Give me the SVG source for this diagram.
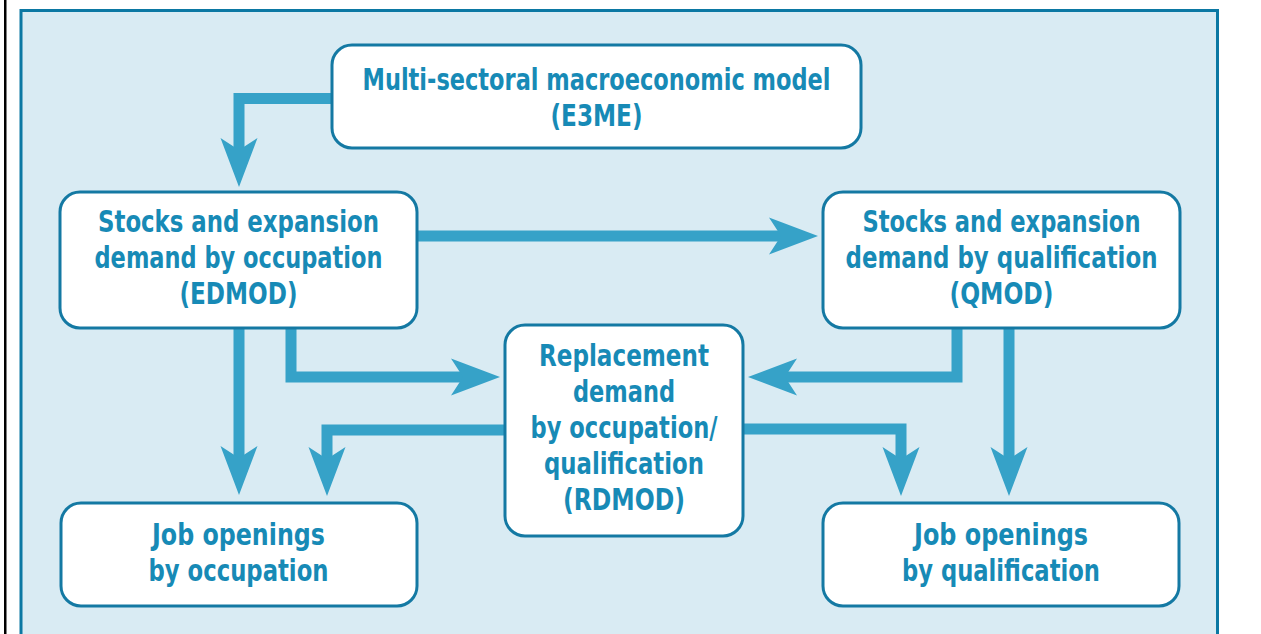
<svg xmlns="http://www.w3.org/2000/svg" width="1261" height="634" viewBox="0 0 1261 634">
<style>
.panel{fill:#d9ebf3;stroke:#0b78a3;stroke-width:3}
.box{fill:#ffffff;stroke:#1479a3;stroke-width:3}
.lbl{font-family:"Liberation Sans Narrow","DejaVu Sans Condensed","Liberation Sans",sans-serif;font-stretch:condensed;font-weight:bold;font-size:30px;fill:#178ab6;text-anchor:middle}
.conn{fill:none;stroke:#36a2c8;stroke-width:11;stroke-linejoin:miter;stroke-linecap:butt}
</style>
<defs>
<marker id="arr" markerUnits="userSpaceOnUse" viewBox="-20 -20 60 40" markerWidth="60" markerHeight="40" refX="0" refY="0" orient="auto">
<path d="M36,0 L-13,-18.5 L-1,0 L-13,18.5 Z" fill="#36a2c8"/>
</marker>
</defs>
<rect x="4" y="0" width="2.5" height="634" fill="#000000"/>
<rect class="panel" x="21" y="10.5" width="1196.5" height="640"/>
<g id="connectors">
<path class="conn" d="M332,98.5 H239 V151" marker-end="url(#arr)"/>
<path class="conn" d="M417,236 H782" marker-end="url(#arr)"/>
<path class="conn" d="M239,328 V459" marker-end="url(#arr)"/>
<path class="conn" d="M291,328 V377 H464" marker-end="url(#arr)"/>
<path class="conn" d="M505,430 H327 V460" marker-end="url(#arr)"/>
<path class="conn" d="M957,328 V377 H784" marker-end="url(#arr)"/>
<path class="conn" d="M743,429 H901 V460" marker-end="url(#arr)"/>
<path class="conn" d="M1009,328 V460" marker-end="url(#arr)"/>
</g>
<g id="e3me">
<rect class="box" x="332" y="45" width="529" height="103" rx="20"/>
<text class="lbl" x="596.5" y="90" textLength="468" lengthAdjust="spacingAndGlyphs">Multi-sectoral macroeconomic model</text>
<text class="lbl" x="596.5" y="126" textLength="92" lengthAdjust="spacingAndGlyphs">(E3ME)</text>
</g>
<g id="edmod">
<rect class="box" x="60" y="192" width="357" height="136" rx="20"/>
<text class="lbl" x="238.5" y="232" textLength="281" lengthAdjust="spacingAndGlyphs">Stocks and expansion</text>
<text class="lbl" x="238.5" y="268" textLength="288" lengthAdjust="spacingAndGlyphs">demand by occupation</text>
<text class="lbl" x="238.5" y="304" textLength="118" lengthAdjust="spacingAndGlyphs">(EDMOD)</text>
</g>
<g id="qmod">
<rect class="box" x="823" y="192" width="357" height="136" rx="20"/>
<text class="lbl" x="1001.5" y="232" textLength="278" lengthAdjust="spacingAndGlyphs">Stocks and expansion</text>
<text class="lbl" x="1001.5" y="268" textLength="312" lengthAdjust="spacingAndGlyphs">demand by qualification</text>
<text class="lbl" x="1001.5" y="304" textLength="104" lengthAdjust="spacingAndGlyphs">(QMOD)</text>
</g>
<g id="rdmod">
<rect class="box" x="505" y="325" width="238" height="211" rx="20"/>
<text class="lbl" x="624" y="366" textLength="170" lengthAdjust="spacingAndGlyphs">Replacement</text>
<text class="lbl" x="624" y="402" textLength="102" lengthAdjust="spacingAndGlyphs">demand</text>
<text class="lbl" x="624" y="438" textLength="187" lengthAdjust="spacingAndGlyphs">by occupation/</text>
<text class="lbl" x="624" y="474" textLength="160" lengthAdjust="spacingAndGlyphs">qualification</text>
<text class="lbl" x="624" y="510" textLength="122" lengthAdjust="spacingAndGlyphs">(RDMOD)</text>
</g>
<g id="jobs-occupation">
<rect class="box" x="61" y="503" width="356" height="103" rx="20"/>
<text class="lbl" x="238.5" y="545" textLength="173" lengthAdjust="spacingAndGlyphs">Job openings</text>
<text class="lbl" x="238.5" y="581" textLength="180" lengthAdjust="spacingAndGlyphs">by occupation</text>
</g>
<g id="jobs-qualification">
<rect class="box" x="823" y="503" width="356" height="103" rx="20"/>
<text class="lbl" x="1001" y="545" textLength="174" lengthAdjust="spacingAndGlyphs">Job openings</text>
<text class="lbl" x="1001" y="581" textLength="198" lengthAdjust="spacingAndGlyphs">by qualification</text>
</g>
</svg>
